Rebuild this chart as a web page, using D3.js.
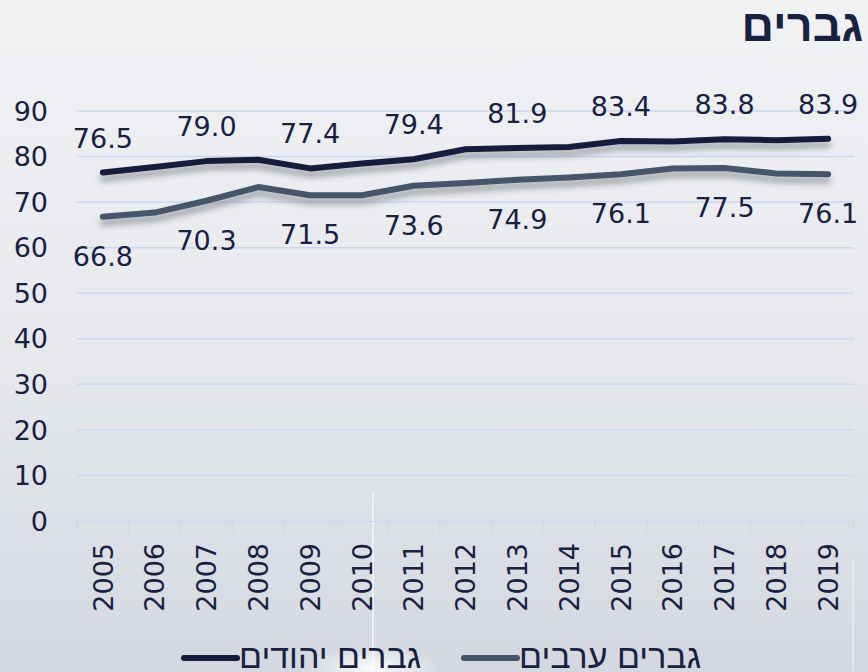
<!DOCTYPE html>
<html>
<head>
<meta charset="utf-8">
<script src="https://cdn.jsdelivr.net/npm/d3@7"></script>
<style>
  html, body { margin: 0; padding: 0; }
  body { width: 868px; height: 672px; overflow: hidden; }
  svg { display: block; font-family: "DejaVu Sans", sans-serif; }
</style>
</head>
<body>
<div id="chart"></div>
<script>
const years = ["2005","2006","2007","2008","2009","2010","2011","2012","2013","2014","2015","2016","2017","2018","2019"];
const jewishMen = [76.5, 77.7, 79.0, 79.3, 77.4, 78.5, 79.4, 81.6, 81.9, 82.1, 83.4, 83.3, 83.8, 83.6, 83.9];
const arabMen = [66.8, 67.7, 70.3, 73.3, 71.5, 71.5, 73.6, 74.2, 74.9, 75.4, 76.1, 77.4, 77.5, 76.3, 76.1];
const yTicks = [0, 10, 20, 30, 40, 50, 60, 70, 80, 90];
const seriesNames = ["גברים יהודים", "גברים ערבים"];
const title = "גברים";

const W = 868, H = 672;
const plot = { left: 77, right: 854, top: 111, bottom: 521 };
const ink = "#18213f";
const hebrewFont = "'Liberation Sans', Arial, sans-serif";

const svg = d3.select("#chart").append("svg").attr("width", W).attr("height", H);
const defs = svg.append("defs");

// background: pale grey fading to a darker blue-grey at the bottom
const bg = defs.append("linearGradient").attr("id", "bg").attr("x1", 0).attr("y1", 0).attr("x2", 0).attr("y2", 1);
bg.append("stop").attr("offset", "0%").attr("stop-color", "#f1f2f4");
bg.append("stop").attr("offset", "55%").attr("stop-color", "#e6e8ec");
bg.append("stop").attr("offset", "100%").attr("stop-color", "#d3d8e0");
const glow = defs.append("radialGradient").attr("id", "glow").attr("cx", 0.5).attr("cy", 0.5).attr("r", 0.5);
glow.append("stop").attr("offset", "0%").attr("stop-color", "#ffffff").attr("stop-opacity", 0.9);
glow.append("stop").attr("offset", "100%").attr("stop-color", "#ffffff").attr("stop-opacity", 0);

const shadow = defs.append("filter").attr("id", "shadow")
  .attr("x", "-5%").attr("y", "-50%").attr("width", "110%").attr("height", "200%");
shadow.append("feDropShadow").attr("dx", 0).attr("dy", 6).attr("stdDeviation", 3)
  .attr("flood-color", "#3a3f48").attr("flood-opacity", 0.45);

svg.append("rect").attr("width", W).attr("height", H).attr("fill", "url(#bg)");
svg.append("ellipse").attr("cx", 372).attr("cy", 668).attr("rx", 70).attr("ry", 22).attr("fill", "url(#glow)");
svg.append("rect").attr("x", 372).attr("y", 492).attr("width", 2).attr("height", 180).attr("fill", "#ffffff").attr("opacity", 0.55);
svg.append("rect").attr("x", 852).attr("y", 560).attr("width", 2).attr("height", 112).attr("fill", "#ffffff").attr("opacity", 0.4);

const x = d3.scaleBand().domain(years).range([plot.left, plot.right]);
const y = d3.scaleLinear().domain([0, 90]).range([plot.bottom, plot.top]);
const xc = d => x(d) + x.bandwidth() / 2;

// gridlines
svg.append("g").selectAll("line").data(yTicks.filter(t => t > 0)).join("line")
  .attr("x1", plot.left).attr("x2", plot.right)
  .attr("y1", d => y(d)).attr("y2", d => y(d))
  .attr("stroke", "#ccd8f1").attr("stroke-width", 1.5);

// y axis labels
svg.append("g").selectAll("text").data(yTicks).join("text")
  .attr("x", 48).attr("y", d => y(d)).attr("dy", "0.36em")
  .attr("text-anchor", "end").attr("font-size", 27).attr("fill", ink)
  .text(d => d);

// x axis with tick marks between categories
const xAxis = svg.append("g").attr("transform", `translate(0,${y(0)})`)
  .call(d3.axisBottom(x).tickSize(0).tickFormat(""));
xAxis.select(".domain").attr("stroke", "#cdd8ee").attr("stroke-width", 1.5);
const edges = years.map(d => x(d)).concat([x(years[years.length - 1]) + x.bandwidth()]);
svg.append("g").selectAll("line").data(edges).join("line")
  .attr("x1", d => d).attr("x2", d => d)
  .attr("y1", y(0)).attr("y2", y(0) + 11)
  .attr("stroke", "#cdd8ee").attr("stroke-width", 1.5);

svg.append("g").selectAll("text").data(years).join("text")
  .attr("transform", d => `translate(${xc(d)},${y(0) + 22}) rotate(-90)`)
  .attr("dy", "0.36em").attr("text-anchor", "end")
  .attr("font-size", 27).attr("fill", ink)
  .text(d => d);

// lines
const series = [
  { name: seriesNames[0], values: jewishMen, color: "#141c3b", above: true },
  { name: seriesNames[1], values: arabMen, color: "#44546b", above: false },
];
const line = d3.line().x((d, i) => xc(years[i])).y(d => y(d));

series.forEach(s => {
  svg.append("path").datum(s.values)
    .attr("d", line)
    .attr("fill", "none").attr("stroke", s.color).attr("stroke-width", 6)
    .attr("stroke-linecap", "round").attr("stroke-linejoin", "round")
    .attr("filter", "url(#shadow)");
});

// data labels every second year
series.forEach(s => {
  svg.append("g").selectAll("text")
    .data(s.values.map((v, i) => ({ v, i })).filter(d => d.i % 2 === 0))
    .join("text")
    .attr("x", d => xc(years[d.i]))
    .attr("y", d => s.above ? y(d.v) - 25 : y(d.v) + 49)
    .attr("text-anchor", "middle").attr("font-size", 27).attr("fill", ink)
    .text(d => d.v.toFixed(1));
});

// title
svg.append("text").attr("x", 863).attr("y", 41)
  .attr("text-anchor", "end").attr("font-family", hebrewFont)
  .attr("font-size", 45).attr("font-weight", "bold").attr("fill", ink)
  .text(title);

// legend
const legendX = [182, 462];
const legend = svg.append("g").selectAll("g").data(series).join("g")
  .attr("transform", (d, i) => `translate(${legendX[i]},658)`);
legend.append("line").attr("x1", 2).attr("x2", 55).attr("y1", 0).attr("y2", 0)
  .attr("stroke", d => d.color).attr("stroke-width", 6).attr("stroke-linecap", "round");
legend.append("text").attr("x", 57).attr("y", 10)
  .attr("text-anchor", "start").attr("font-family", hebrewFont)
  .attr("font-size", 34).attr("fill", ink)
  .text(d => d.name);
</script>
</body>
</html>
